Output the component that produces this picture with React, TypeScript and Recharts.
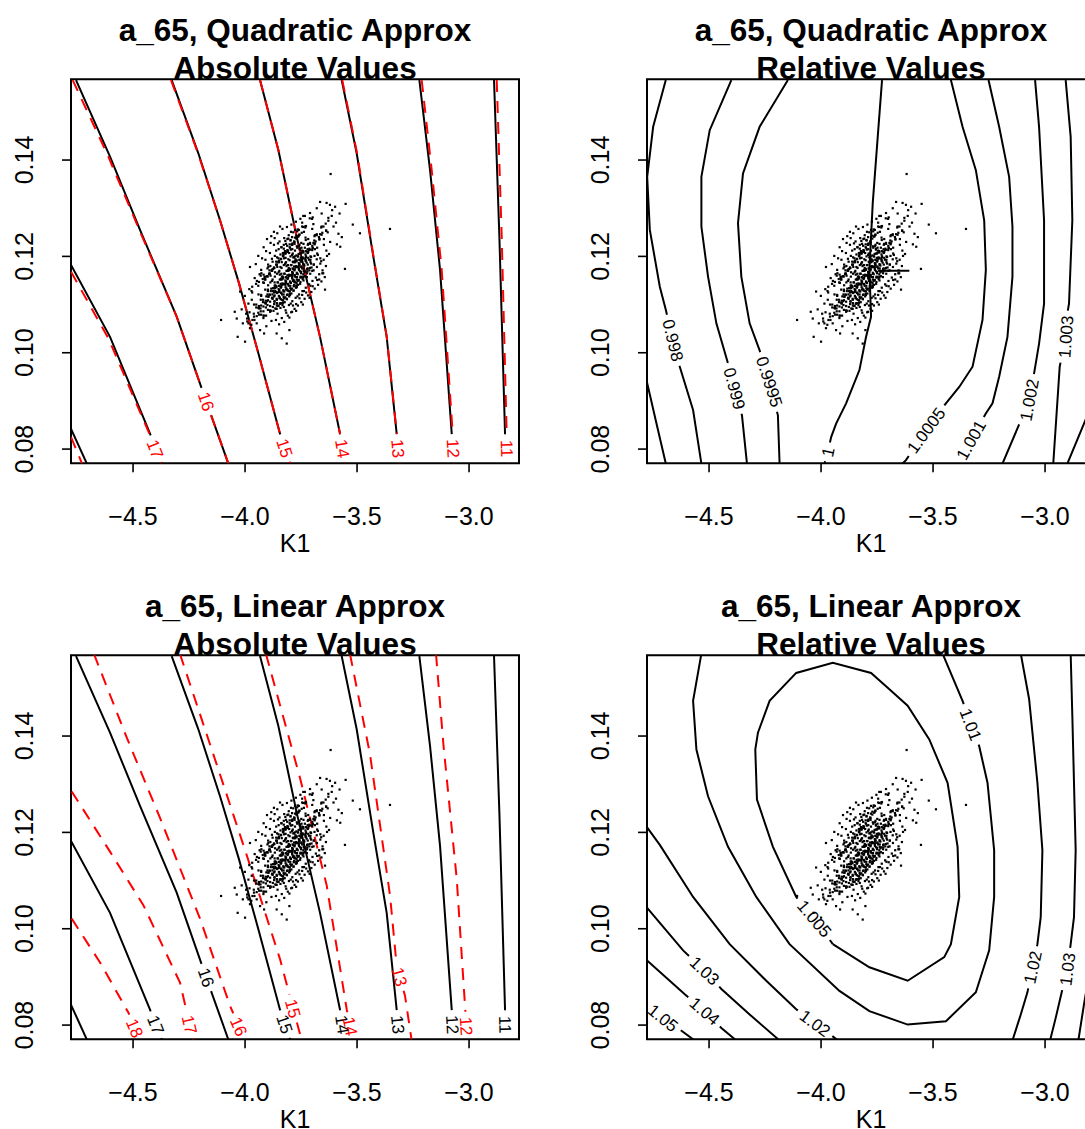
import React from 'react';
import { ComposedChart, Line, Scatter, XAxis, YAxis, ReferenceArea } from 'recharts';

type Pt = [number, number];
type Contour = { level: string; pts: Pt[]; at?: Pt };

const FONT = '"Liberation Sans", Arial, Helvetica, sans-serif';

// ---------- axes ----------
const X_DOMAIN: [number, number] = [-4.777, -2.777];
const Y_DOMAIN: [number, number] = [0.07705, 0.15676];
const X_TICKS = [-4.5, -4.0, -3.5, -3.0];
const Y_TICKS = [0.08, 0.1, 0.12, 0.14];
const X_LABEL = 'K1';

const PANEL_TITLES: [string, string][] = [
  ['a_65, Quadratic Approx', 'Absolute Values'],
  ['a_65, Quadratic Approx', 'Relative Values'],
  ['a_65, Linear Approx', 'Absolute Values'],
  ['a_65, Linear Approx', 'Relative Values'],
];

// ---------- contour lines: true function (black, panels 1 & 3) ----------
const TRUE_ABS: Contour[] = [
  { level: '18', pts: [[-4.7769, 0.0842], [-4.6995, 0.0763]] },
  { level: '17', pts: [[-4.7769, 0.1182], [-4.6028, 0.1033], [-4.4242, 0.0832], [-4.3721, 0.077]], at: [-4.402, 0.08] },
  { level: '16', pts: [[-4.7546, 0.1566], [-4.6028, 0.1407], [-4.4689, 0.1255], [-4.3052, 0.1075], [-4.201, 0.0936], [-4.1489, 0.0867], [-4.0745, 0.077]], at: [-4.1787, 0.0898] },
  { level: '15', pts: [[-4.3275, 0.1566], [-4.2085, 0.1414], [-4.1117, 0.1275], [-4.0269, 0.1144], [-3.9406, 0.0999], [-3.8439, 0.0832], [-3.7993, 0.077]], at: [-3.829, 0.0801] },
  { level: '14', pts: [[-3.9332, 0.1566], [-3.8513, 0.1421], [-3.7695, 0.1241], [-3.6653, 0.1033], [-3.576, 0.0832], [-3.5537, 0.077]], at: [-3.5686, 0.0801] },
  { level: '13', pts: [[-3.5686, 0.1566], [-3.5016, 0.1414], [-3.4272, 0.1199], [-3.3677, 0.1033], [-3.3231, 0.0832], [-3.3112, 0.077]], at: [-3.32, 0.0801] },
  { level: '12', pts: [[-3.2218, 0.1566], [-3.1741, 0.1379], [-3.1295, 0.1172], [-3.0774, 0.0832], [-3.07, 0.077]], at: [-3.0775, 0.0801] },
  { level: '11', pts: [[-2.8885, 0.1566], [-2.8646, 0.1241], [-2.8393, 0.0832], [-2.8364, 0.077]], at: [-2.832, 0.0801] },
];

// ---------- quadratic approximation, absolute (red, panel 1) ----------
const QUAD_ABS: Contour[] = [
  { level: '18', pts: [[-4.7769, 0.0825], [-4.7218, 0.0763]] },
  { level: '17', pts: [[-4.7769, 0.1168], [-4.6102, 0.103], [-4.4272, 0.0832], [-4.3751, 0.077]], at: [-4.402, 0.08] },
  { level: '16', pts: [[-4.7695, 0.1566], [-4.6102, 0.1407], [-4.472, 0.1255], [-4.3052, 0.1075], [-4.201, 0.0936], [-4.1489, 0.0867], [-4.0745, 0.077]], at: [-4.1787, 0.0898] },
  { level: '15', pts: [[-4.3305, 0.1566], [-4.21, 0.1414], [-4.1117, 0.1275], [-4.0269, 0.1144], [-3.9406, 0.0999], [-3.8439, 0.0832], [-3.7993, 0.077]], at: [-3.829, 0.0801] },
  { level: '14', pts: [[-3.9332, 0.1566], [-3.8513, 0.1421], [-3.7695, 0.1241], [-3.6653, 0.1033], [-3.576, 0.0832], [-3.5537, 0.077]], at: [-3.5686, 0.0801] },
  { level: '13', pts: [[-3.566, 0.1566], [-3.5, 0.1414], [-3.4262, 0.1199], [-3.3672, 0.1033], [-3.3226, 0.0832], [-3.3108, 0.077]], at: [-3.32, 0.0801] },
  { level: '12', pts: [[-3.2114, 0.1566], [-3.1667, 0.1379], [-3.1221, 0.1172], [-3.073, 0.0832], [-3.067, 0.077]], at: [-3.0775, 0.0801] },
  { level: '11', pts: [[-2.8765, 0.1566], [-2.8542, 0.1241], [-2.832, 0.0832], [-2.829, 0.077]], at: [-2.832, 0.0801] },
];

// ---------- linear approximation, absolute (red, panel 3) ----------
const LIN_ABS: Contour[] = [
  { level: '18', pts: [[-4.7739, 0.1021], [-4.6474, 0.093], [-4.521, 0.0826], [-4.4689, 0.0768]], at: [-4.4912, 0.0794] },
  { level: '17', pts: [[-4.7739, 0.1285], [-4.6028, 0.116], [-4.454, 0.1049], [-4.2903, 0.0888], [-4.2308, 0.0768]], at: [-4.2457, 0.0801] },
  { level: '16', pts: [[-4.6742, 0.157], [-4.5284, 0.1397], [-4.3796, 0.123], [-4.201, 0.1021], [-4.0671, 0.084], [-4.0, 0.0768]], at: [-4.0224, 0.0798] },
  { level: '15', pts: [[-4.2903, 0.157], [-4.1415, 0.1362], [-3.9927, 0.1153], [-3.8439, 0.0937], [-3.7471, 0.0768]], at: [-3.7962, 0.0833] },
  { level: '14', pts: [[-3.9064, 0.157], [-3.7546, 0.1313], [-3.6355, 0.109], [-3.5462, 0.0833], [-3.5164, 0.0768]], at: [-3.5239, 0.0798] },
  { level: '13', pts: [[-3.5314, 0.157], [-3.4421, 0.1362], [-3.3528, 0.1069], [-3.3231, 0.0923], [-3.2859, 0.0861], [-3.2562, 0.0768]], at: [-3.3201, 0.0899] },
  { level: '12', pts: [[-3.1474, 0.157], [-3.1146, 0.1383], [-3.0551, 0.1104], [-3.018, 0.084], [-3.0076, 0.0768]], at: [-3.0031, 0.0798] },
];

// ---------- quadratic approximation, relative (panel 2) ----------
const QUAD_REL: Contour[] = [
  { level: '0.9975', pts: [[-4.7792, 0.0943], [-4.7347, 0.0853], [-4.6931, 0.077]] },
  { level: '0.998', pts: [[-4.6931, 0.1566], [-4.7495, 0.1469], [-4.7762, 0.1365], [-4.7644, 0.1255], [-4.7198, 0.1137], [-4.6931, 0.1089], [-4.6604, 0.1026], [-4.6307, 0.0971], [-4.5713, 0.0881], [-4.5342, 0.077]], at: [-4.6604, 0.1026] },
  { level: '0.999', pts: [[-4.4005, 0.1566], [-4.497, 0.1462], [-4.5342, 0.1365], [-4.5342, 0.1262], [-4.5045, 0.1158], [-4.4673, 0.1061], [-4.4198, 0.0985], [-4.3856, 0.0926], [-4.353, 0.087], [-4.3307, 0.077]], at: [-4.3856, 0.0926] },
  { level: '0.9995', pts: [[-4.148, 0.1566], [-4.2742, 0.1469], [-4.3485, 0.1372], [-4.3708, 0.1269], [-4.3559, 0.1158], [-4.3188, 0.1061], [-4.2742, 0.1005], [-4.2297, 0.094], [-4.1926, 0.087], [-4.1851, 0.077]], at: [-4.2297, 0.094] },
  { level: '1', pts: [[-3.7277, 0.1566], [-3.747, 0.1448], [-3.7693, 0.131], [-3.7841, 0.1172], [-3.7767, 0.1075], [-3.799, 0.1033], [-3.8287, 0.0964], [-3.8881, 0.0895], [-3.9327, 0.0853], [-3.9549, 0.0825], [-3.9698, 0.0794], [-3.9846, 0.077]], at: [-3.9698, 0.0794] },
  { level: '1', pts: [[-3.745, 0.117], [-3.6059, 0.117]] },
  { level: '1.0005', pts: [[-3.4203, 0.1566], [-3.3683, 0.1469], [-3.3089, 0.1379], [-3.2717, 0.1275], [-3.2643, 0.1172], [-3.2792, 0.1068], [-3.3237, 0.0971], [-3.3831, 0.0929], [-3.4425, 0.0895], [-3.5316, 0.0839], [-3.6208, 0.0777], [-3.6356, 0.077]], at: [-3.5316, 0.0839] },
  { level: '1.001', pts: [[-3.2524, 0.1566], [-3.2049, 0.1469], [-3.1603, 0.1365], [-3.1455, 0.1262], [-3.1455, 0.1158], [-3.1678, 0.1033], [-3.2049, 0.095], [-3.2346, 0.0895], [-3.2643, 0.0874], [-3.3311, 0.0819], [-3.3831, 0.077]], at: [-3.3311, 0.0819] },
  { level: '1.002', pts: [[-3.0445, 0.1566], [-3.0267, 0.1469], [-3.0044, 0.1275], [-3.0044, 0.1102], [-3.0267, 0.1019], [-3.0489, 0.0957], [-3.0712, 0.0902], [-3.1232, 0.0843], [-3.19, 0.077]], at: [-3.0712, 0.0902] },
  { level: '1.003', pts: [[-2.9079, 0.1566], [-2.8856, 0.1448], [-2.8782, 0.1275], [-2.893, 0.1102], [-2.9004, 0.1082], [-2.9079, 0.1033], [-2.9346, 0.0971], [-2.9633, 0.077]], at: [-2.9079, 0.1033] },
  { level: '1.004', pts: [[-2.9004, 0.077], [-2.8262, 0.0853], [-2.7816, 0.0902]] },
];

// ---------- linear approximation, relative (panel 4) ----------
const LIN_REL: Contour[] = [
  { level: '1.005', pts: [[-3.9475, 0.0968], [-3.7841, 0.092], [-3.6133, 0.0892], [-3.45, 0.0941], [-3.4203, 0.0968], [-3.3831, 0.1066], [-3.3905, 0.117], [-3.4351, 0.1303], [-3.5168, 0.1393], [-3.6133, 0.1463], [-3.695, 0.1497], [-3.7767, 0.1531], [-3.9475, 0.1552], [-4.1109, 0.1531], [-4.2297, 0.1473], [-4.2817, 0.1407], [-4.2936, 0.1372], [-4.2861, 0.1268], [-4.2148, 0.117], [-4.1109, 0.1066], [-4.0292, 0.1021], [-3.9475, 0.0968]], at: [-4.0292, 0.1021] },
  { level: '1.01', pts: [[-4.5342, 0.1571], [-4.5713, 0.1473], [-4.5564, 0.1372], [-4.5045, 0.1275], [-4.4153, 0.117], [-4.2891, 0.1066], [-4.1406, 0.0968], [-3.9178, 0.0871], [-3.7841, 0.0829], [-3.6133, 0.0801], [-3.4425, 0.0808], [-3.3089, 0.0868], [-3.2494, 0.0955], [-3.2272, 0.1066], [-3.2272, 0.1163], [-3.2569, 0.1303], [-3.294, 0.1379], [-3.3311, 0.1424], [-3.3683, 0.1473], [-3.4574, 0.1571]], at: [-3.3311, 0.1424] },
  { level: '1.02', pts: [[-4.7792, 0.1212], [-4.7198, 0.1174], [-4.5713, 0.1066], [-4.4079, 0.0968], [-4.2445, 0.0892], [-4.1109, 0.0833], [-4.0262, 0.0804], [-3.9238, 0.0768]], at: [-4.0262, 0.0804] },
  { level: '1.02', pts: [[-3.1084, 0.1571], [-3.0712, 0.1477], [-3.0341, 0.1303], [-3.0118, 0.1163], [-3.0193, 0.1024], [-3.0341, 0.0968], [-3.0564, 0.092], [-3.0787, 0.0868], [-3.1084, 0.0822], [-3.1455, 0.0768]], at: [-3.0564, 0.092] },
  { level: '1.03', pts: [[-4.7792, 0.1045], [-4.6158, 0.0955], [-4.5193, 0.0913], [-4.445, 0.0875], [-4.3188, 0.0822], [-4.1851, 0.0768]], at: [-4.5193, 0.0913] },
  { level: '1.03', pts: [[-2.8856, 0.1571], [-2.8782, 0.1442], [-2.8633, 0.1163], [-2.8708, 0.1024], [-2.8856, 0.0968], [-2.9004, 0.0916], [-2.9257, 0.0868], [-2.9524, 0.0815], [-2.9777, 0.0768]], at: [-2.9004, 0.0916] },
  { level: '1.04', pts: [[-4.7792, 0.0935], [-4.6084, 0.0864], [-4.5193, 0.0829], [-4.445, 0.0794], [-4.3782, 0.0768]], at: [-4.5193, 0.0829] },
  { level: '1.04', pts: [[-2.8514, 0.0768], [-2.8262, 0.0843], [-2.7965, 0.0923]] },
  { level: '1.05', pts: [[-4.7792, 0.0843], [-4.705, 0.0815], [-4.6307, 0.0791], [-4.5639, 0.0768]], at: [-4.705, 0.0815] },
];

// ---------- sampled points (K1, a_65) ----------
const POINTS: Pt[] = [
  [-3.960,.1100],[-3.990,.1065],[-3.938,.1093],[-4.001,.1118],[-3.948,.1076],[-3.978,.1051],
  [-3.950,.1100],[-3.980,.1084],[-3.928,.1118],[-3.991,.1071],[-3.938,.1092],[-3.968,.1137],[-3.915,.1077],
  [-3.940,.1093],[-3.970,.1110],[-3.918,.1077],[-3.981,.1132],[-3.928,.1098],[-3.958,.1068],[-3.905,.1117],
  [-3.930,.1110],[-3.960,.1075],[-3.908,.1103],[-3.971,.1128],[-3.918,.1086],[-3.948,.1061],[-3.895,.1117],[-3.938,.1097],
  [-3.920,.1110],[-3.950,.1094],[-3.898,.1128],[-3.961,.1081],[-3.908,.1102],[-3.938,.1147],[-3.885,.1087],[-3.928,.1120],[-3.967,.1068],
  [-3.910,.1104],[-3.940,.1121],[-3.888,.1088],[-3.951,.1143],[-3.898,.1109],[-3.928,.1079],[-3.875,.1128],[-3.918,.1096],[-3.957,.1155],[-3.870,.1101],
  [-3.900,.1121],[-3.930,.1086],[-3.878,.1114],[-3.941,.1139],[-3.888,.1097],[-3.918,.1072],[-3.865,.1128],[-3.908,.1108],[-3.947,.1149],[-3.860,.1091],[-3.883,.1133],
  [-3.890,.1121],[-3.920,.1105],[-3.868,.1139],[-3.931,.1092],[-3.878,.1113],[-3.908,.1158],[-3.855,.1098],[-3.898,.1131],[-3.937,.1079],[-3.850,.1126],[-3.873,.1087],[-3.916,.1145],
  [-3.880,.1114],[-3.910,.1131],[-3.858,.1098],[-3.921,.1153],[-3.868,.1119],[-3.898,.1089],[-3.845,.1138],[-3.888,.1106],[-3.927,.1165],[-3.840,.1111],[-3.863,.1126],[-3.906,.1077],
  [-3.870,.1134],[-3.900,.1099],[-3.848,.1127],[-3.911,.1152],[-3.858,.1110],[-3.888,.1085],[-3.835,.1141],[-3.878,.1121],[-3.917,.1162],[-3.830,.1104],[-3.853,.1146],[-3.896,.1116],[-3.865,.1092],
  [-3.860,.1136],[-3.890,.1120],[-3.838,.1154],[-3.901,.1107],[-3.848,.1128],[-3.878,.1173],[-3.825,.1113],[-3.868,.1146],[-3.907,.1094],[-3.820,.1141],[-3.843,.1102],[-3.886,.1160],[-3.855,.1125],
  [-3.850,.1132],[-3.880,.1149],[-3.828,.1116],[-3.891,.1171],[-3.838,.1137],[-3.868,.1107],[-3.815,.1156],[-3.858,.1124],[-3.897,.1183],[-3.810,.1129],[-3.833,.1144],[-3.876,.1095],[-3.845,.1162],[-3.800,.1120],
  [-3.840,.1152],[-3.870,.1117],[-3.818,.1145],[-3.881,.1170],[-3.828,.1128],[-3.858,.1103],[-3.805,.1159],[-3.848,.1139],[-3.887,.1180],[-3.800,.1122],[-3.823,.1164],[-3.866,.1134],[-3.835,.1110],[-3.790,.1156],
  [-3.830,.1154],[-3.860,.1138],[-3.808,.1172],[-3.871,.1125],[-3.818,.1146],[-3.848,.1191],[-3.795,.1131],[-3.838,.1164],[-3.877,.1112],[-3.790,.1159],[-3.813,.1120],[-3.856,.1178],[-3.825,.1143],[-3.780,.1150],[-3.842,.1204],
  [-3.820,.1150],[-3.850,.1167],[-3.798,.1134],[-3.861,.1189],[-3.808,.1155],[-3.838,.1125],[-3.785,.1174],[-3.828,.1142],[-3.867,.1201],[-3.780,.1147],[-3.803,.1162],[-3.846,.1113],[-3.815,.1180],[-3.770,.1138],[-3.832,.1158],
  [-3.810,.1170],[-3.840,.1135],[-3.788,.1163],[-3.851,.1188],[-3.798,.1146],[-3.828,.1121],[-3.775,.1177],[-3.818,.1157],[-3.857,.1198],[-3.770,.1140],[-3.793,.1182],[-3.836,.1152],[-3.805,.1128],[-3.760,.1174],[-3.822,.1211],
  [-3.800,.1172],[-3.830,.1156],[-3.778,.1190],[-3.841,.1143],[-3.788,.1164],[-3.818,.1209],[-3.765,.1149],[-3.808,.1182],[-3.847,.1130],[-3.760,.1177],[-3.783,.1138],[-3.826,.1196],[-3.795,.1161],[-3.750,.1168],[-3.812,.1222],
  [-3.790,.1168],[-3.820,.1185],[-3.768,.1152],[-3.831,.1207],[-3.778,.1173],[-3.808,.1143],[-3.755,.1192],[-3.798,.1160],[-3.837,.1219],[-3.750,.1165],[-3.773,.1180],[-3.816,.1131],[-3.785,.1198],[-3.740,.1156],
  [-3.780,.1188],[-3.810,.1153],[-3.758,.1181],[-3.821,.1206],[-3.768,.1164],[-3.798,.1139],[-3.745,.1195],[-3.788,.1175],[-3.827,.1216],[-3.740,.1158],[-3.763,.1200],[-3.806,.1170],[-3.775,.1146],[-3.730,.1192],
  [-3.770,.1190],[-3.800,.1174],[-3.748,.1208],[-3.811,.1161],[-3.758,.1182],[-3.788,.1227],[-3.735,.1167],[-3.778,.1200],[-3.817,.1148],[-3.730,.1195],[-3.753,.1156],[-3.796,.1214],[-3.765,.1179],
  [-3.760,.1186],[-3.790,.1203],[-3.738,.1170],[-3.801,.1225],[-3.748,.1191],[-3.778,.1161],[-3.725,.1210],[-3.768,.1178],[-3.807,.1237],[-3.720,.1183],[-3.743,.1198],[-3.786,.1149],[-3.755,.1216],
  [-3.750,.1206],[-3.780,.1171],[-3.728,.1199],[-3.791,.1224],[-3.738,.1182],[-3.768,.1157],[-3.715,.1213],[-3.758,.1193],[-3.797,.1234],[-3.710,.1176],[-3.733,.1218],[-3.776,.1188],
  [-3.740,.1208],[-3.770,.1192],[-3.718,.1226],[-3.781,.1179],[-3.728,.1200],[-3.758,.1245],[-3.705,.1185],[-3.748,.1218],[-3.787,.1166],[-3.700,.1213],[-3.723,.1174],
  [-3.730,.1204],[-3.760,.1221],[-3.708,.1188],[-3.771,.1243],[-3.718,.1209],[-3.748,.1179],[-3.695,.1228],[-3.738,.1196],[-3.777,.1255],[-3.690,.1201],[-3.713,.1216],
  [-3.720,.1224],[-3.750,.1189],[-3.698,.1217],[-3.761,.1242],[-3.708,.1200],[-3.738,.1175],[-3.685,.1231],[-3.728,.1211],[-3.767,.1252],[-3.680,.1194],
  [-3.710,.1226],[-3.740,.1210],[-3.688,.1244],[-3.751,.1197],[-3.698,.1218],[-3.728,.1263],[-3.675,.1203],[-3.718,.1236],[-3.757,.1184],
  [-3.700,.1222],[-3.730,.1239],[-3.678,.1206],[-3.741,.1261],[-3.688,.1227],[-3.718,.1197],[-3.665,.1246],[-3.708,.1214],
  [-3.690,.1242],[-3.720,.1207],[-3.668,.1235],[-3.731,.1260],[-3.678,.1218],[-3.708,.1193],[-3.655,.1249],
  [-3.680,.1244],[-3.710,.1228],[-3.658,.1262],[-3.721,.1215],[-3.668,.1236],[-3.698,.1281],
  [-3.670,.1240],[-3.700,.1257],[-3.648,.1224],[-3.711,.1279],[-3.658,.1245],[-3.688,.1215],
  [-3.660,.1260],[-3.690,.1225],[-3.638,.1253],[-3.701,.1278],[-3.648,.1236],
  [-3.650,.1262],[-3.680,.1246],[-3.628,.1280],[-3.691,.1233],[-3.638,.1254],
  [-3.869,.1106],[-3.897,.1140],[-3.845,.1115],[-3.911,.1153],[-3.860,.1091],[-3.885,.1128],[-3.833,.1099],[-3.919,.1146],
  [-3.859,.1112],[-3.887,.1146],[-3.835,.1121],[-3.901,.1159],[-3.850,.1097],[-3.875,.1134],[-3.823,.1105],[-3.909,.1152],
  [-3.849,.1118],[-3.877,.1152],[-3.825,.1127],[-3.891,.1165],[-3.840,.1103],[-3.865,.1140],[-3.813,.1111],[-3.899,.1158],
  [-3.839,.1124],[-3.867,.1158],[-3.815,.1133],[-3.881,.1171],[-3.830,.1109],[-3.855,.1146],[-3.803,.1117],[-3.889,.1164],
  [-3.829,.1130],[-3.857,.1164],[-3.805,.1139],[-3.871,.1177],[-3.820,.1115],[-3.845,.1152],[-3.793,.1123],[-3.879,.1170],
  [-3.819,.1136],[-3.847,.1170],[-3.795,.1145],[-3.861,.1183],[-3.810,.1121],[-3.835,.1158],[-3.783,.1129],[-3.869,.1176],
  [-3.809,.1142],[-3.837,.1176],[-3.785,.1151],[-3.851,.1189],[-3.800,.1127],[-3.825,.1164],[-3.773,.1135],[-3.859,.1182],
  [-3.799,.1148],[-3.827,.1182],[-3.775,.1157],[-3.841,.1195],[-3.790,.1133],[-3.815,.1170],[-3.763,.1141],[-3.849,.1188],
  [-3.789,.1154],[-3.817,.1188],[-3.765,.1163],[-3.831,.1201],[-3.780,.1139],[-3.805,.1176],[-3.753,.1147],[-3.839,.1194],
  [-3.779,.1160],[-3.807,.1194],[-3.755,.1169],[-3.821,.1207],[-3.770,.1145],[-3.795,.1182],[-3.743,.1153],[-3.829,.1200],
  [-3.769,.1166],[-3.797,.1200],[-3.745,.1175],[-3.811,.1213],[-3.760,.1151],[-3.785,.1188],[-3.733,.1159],[-3.819,.1206],
  [-3.759,.1172],[-3.787,.1206],[-3.735,.1181],[-3.801,.1219],[-3.750,.1157],[-3.775,.1194],[-3.723,.1165],[-3.809,.1212],
  [-3.749,.1178],[-3.777,.1212],[-3.725,.1187],[-3.791,.1225],[-3.740,.1163],[-3.765,.1200],[-3.713,.1171],[-3.799,.1218],
  [-3.739,.1184],[-3.767,.1218],[-3.715,.1193],[-3.781,.1231],[-3.730,.1169],[-3.755,.1206],[-3.703,.1177],[-3.789,.1224],
  [-3.729,.1190],[-3.757,.1224],[-3.705,.1199],[-3.771,.1237],[-3.720,.1175],[-3.745,.1212],[-3.693,.1183],[-3.779,.1230],
  [-3.952,.1184],[-3.941,.1201],[-3.928,.1172],[-3.917,.1219],[-3.909,.1193],[-3.902,.1236],[-3.896,.1178],[-3.889,.1207],[-3.883,.1242],[-3.877,.1189],
  [-3.871,.1224],[-3.866,.1167],[-3.861,.1212],[-3.856,.1248],[-3.851,.1196],[-3.846,.1231],[-3.842,.1178],[-3.838,.1219],[-3.833,.1257],[-3.829,.1203],
  [-3.825,.1238],[-3.821,.1185],[-3.817,.1226],[-3.813,.1261],[-3.809,.1209],[-3.805,.1244],[-3.801,.1192],[-3.797,.1233],[-3.793,.1266],[-3.789,.1215],
  [-3.785,.1250],[-3.781,.1198],[-3.777,.1239],[-3.773,.1272],[-3.769,.1221],[-3.765,.1256],[-3.761,.1205],[-3.757,.1245],[-3.753,.1278],[-3.749,.1228],
  [-3.745,.1262],[-3.741,.1211],[-3.737,.1251],[-3.733,.1284],[-3.729,.1234],
  [-3.935,.1163],[-3.924,.1196],[-3.913,.1157],[-3.906,.1211],[-3.893,.1163],[-3.886,.1228],[-3.874,.1174],[-3.868,.1238],[-3.858,.1183],[-3.853,.1227],
  [-3.844,.1262],[-3.836,.1188],[-3.827,.1224],[-3.819,.1197],[-3.811,.1236],[-3.803,.1207],[-3.795,.1251],[-3.787,.1189],[-3.779,.1226],[-3.771,.1202],
  [-3.763,.1241],[-3.755,.1214],[-3.747,.1249],[-3.739,.1226],[-3.731,.1262],
  [-3.862,.1068],[-3.855,.1081],[-3.848,.1059],[-3.842,.1093],[-3.836,.1072],[-3.831,.1104],[-3.825,.1064],[-3.819,.1088],[-3.814,.1112],[-3.809,.1077],
  [-3.804,.1099],[-3.799,.1121],[-3.794,.1084],[-3.789,.1107],[-3.784,.1129],[-3.779,.1091],[-3.774,.1114],[-3.769,.1136],[-3.764,.1098],[-3.759,.1121],
  [-3.754,.1143],[-3.749,.1105],[-3.744,.1128],[-3.739,.1150],[-3.734,.1112],[-3.729,.1135],[-3.724,.1157],[-3.719,.1119],[-3.714,.1142],[-3.709,.1164],
  [-3.704,.1126],[-3.699,.1149],[-3.694,.1171],[-3.689,.1133],[-3.684,.1156],[-3.679,.1178],[-3.674,.1141],[-3.669,.1163],[-3.664,.1185],[-3.659,.1148],
  [-3.654,.1171],[-3.649,.1193],[-3.644,.1157],[-3.639,.1180],[-3.634,.1201],
  [-3.845,.1102],[-3.827,.1095],[-3.811,.1131],[-3.796,.1102],[-3.781,.1141],[-3.766,.1117],[-3.752,.1158],[-3.737,.1128],[-3.722,.1169],[-3.708,.1139],
  [-3.693,.1183],[-3.678,.1151],[-3.664,.1196],[-3.651,.1165],[-3.637,.1212],[-3.816,.1083],[-3.786,.1098],[-3.757,.1113],[-3.727,.1125],[-3.698,.1138],
  [-3.669,.1152],[-3.802,.1073],[-3.772,.1087],[-3.742,.1100],[-3.712,.1114],
  [-4.107,.1068],[-4.037,.1071],[-4.033,.1033],[-4.000,.1023],[-4.010,.1061],[-3.933,.1047],[-3.859,.1040],[-3.814,.1019],[-3.836,.1030],[-3.802,.1047],
  [-4.022,.1127],[-3.985,.1102],[-3.941,.1083],[-3.978,.1178],[-4.015,.1090],[-3.995,.1081],[-3.972,.1058],[-4.046,.1085],[-3.968,.1125],[-3.985,.1061],
  [-3.905,.1055],[-3.882,.1066],[-3.915,.1040],[-3.790,.1085],[-3.772,.1101],[-3.745,.1120],
  [-3.618,.1371],[-3.665,.1313],[-3.636,.1311],[-3.621,.1307],[-3.598,.1303],[-3.658,.1289],[-3.613,.1284],[-3.551,.1309],[-3.519,.1266],[-3.487,.1248],
  [-3.353,.1257],[-3.554,.1174],[-3.643,.1131],[-3.740,.1284],[-3.695,.1267],[-3.594,.1270],[-3.871,.1251],[-3.640,.1268],[-3.628,.1274],[-3.631,.1250],
  [-3.611,.1296],[-3.605,.1262],[-3.583,.1247],[-3.578,.1289],[-3.568,.1240],[-3.575,.1220],[-3.590,.1225],[-3.620,.1230],[-3.625,.1205],[-3.660,.1190],
  [-3.655,.1165],[-3.700,.1170],[-3.760,.1255],[-3.790,.1240],[-3.850,.1215],[-3.820,.1232],[-3.880,.1195],[-3.900,.1175],[-3.930,.1160],[-3.710,.1290],
  [-3.745,.1270],[-3.680,.1300],
];

// ---------- layout ----------
const CHART_W = 576;
const CHART_H = 576;
const Y_AXIS_W = 60;
const X_AXIS_H = 60;
const MARGIN = { top: 79.3, right: 57, bottom: 52.7, left: 11 };
const PLOT_W = CHART_W - MARGIN.left - Y_AXIS_W - MARGIN.right;
const PLOT_H = CHART_H - MARGIN.top - MARGIN.bottom - X_AXIS_H;
const PANEL_POS: [number, number][] = [[0, 0], [576.3, 0], [0, 576], [576.3, 576]];
const LABEL_FS = 17;
const LABEL_PAD = 5;
const AXIS_FS = 25;
const TITLE_FS = 31.5;
const RED = '#ff0000';
const LINE_W = 2;

const XR = X_DOMAIN[1] - X_DOMAIN[0];
const YR = Y_DOMAIN[1] - Y_DOMAIN[0];
const toPx = (p: Pt): Pt => [((p[0] - X_DOMAIN[0]) / XR) * PLOT_W, ((Y_DOMAIN[1] - p[1]) / YR) * PLOT_H];
const fromPx = (p: Pt): Pt => [X_DOMAIN[0] + (p[0] / PLOT_W) * XR, Y_DOMAIN[1] - (p[1] / PLOT_H) * YR];

const labelWidth = (s: string) => {
  let w = 0;
  for (const ch of s) w += ch === '.' ? 0.278 : 0.556;
  return w * LABEL_FS;
};

function splitContour(c: Contour) {
  if (!c.at) return { segs: [c.pts], label: null as any };
  const P = c.pts.map(toPx);
  const L = toPx(c.at);
  const cum = [0];
  for (let i = 1; i < P.length; i++) cum.push(cum[i - 1] + Math.hypot(P[i][0] - P[i - 1][0], P[i][1] - P[i - 1][1]));
  const total = cum[cum.length - 1];
  let best = { d: Infinity, s: 0, q: P[0] as Pt, dx: 1, dy: 0 };
  for (let i = 0; i < P.length - 1; i++) {
    const a = P[i];
    const b = P[i + 1];
    const dx = b[0] - a[0];
    const dy = b[1] - a[1];
    const len = Math.hypot(dx, dy);
    if (len === 0) continue;
    let t = ((L[0] - a[0]) * dx + (L[1] - a[1]) * dy) / (len * len);
    t = Math.max(0, Math.min(1, t));
    const q: Pt = [a[0] + t * dx, a[1] + t * dy];
    const d = Math.hypot(q[0] - L[0], q[1] - L[1]);
    if (d < best.d) best = { d, s: cum[i] + t * len, q, dx, dy };
  }
  const half = labelWidth(c.level) / 2 + LABEL_PAD;
  const s0 = best.s - half;
  const s1 = best.s + half;
  const pointAt = (s: number): Pt => {
    for (let i = 0; i < P.length - 1; i++) {
      if (s <= cum[i + 1] || i === P.length - 2) {
        const seg = cum[i + 1] - cum[i];
        const t = seg ? (s - cum[i]) / seg : 0;
        return [P[i][0] + t * (P[i + 1][0] - P[i][0]), P[i][1] + t * (P[i + 1][1] - P[i][1])];
      }
    }
    return P[P.length - 1];
  };
  const segs: Pt[][] = [];
  if (s0 > 0) {
    const s = P.filter((_, i) => cum[i] < s0);
    s.push(pointAt(s0));
    segs.push(s);
  }
  if (s1 < total) {
    segs.push([pointAt(s1), ...P.filter((_, i) => cum[i] > s1)]);
  }
  let ang = (Math.atan2(best.dy, best.dx) * 180) / Math.PI;
  if (ang > 90) ang -= 180;
  if (ang <= -90) ang += 180;
  const lp = fromPx(best.q);
  return {
    segs: segs.map((s) => s.map(fromPx)),
    label: { x: lp[0], y: lp[1], text: c.level, angle: ang },
  };
}

function build(set: Contour[]) {
  const segs: Pt[][] = [];
  const labels: any[] = [];
  set.forEach((c) => {
    const r = splitContour(c);
    r.segs.forEach((s) => segs.push(s));
    if (r.label) labels.push(r.label);
  });
  return { segs, labels };
}

const POINT_DATA = POINTS.map(([x, y]) => ({ x, y }));

const fmtX = (v: number) => (v < 0 ? '\u2212' : '') + Math.abs(v).toFixed(1);

const XTick = (p: any) => (
  <text x={p.x} y={p.y + 52.5} textAnchor="middle" fontSize={AXIS_FS} fontFamily={FONT} fill="#000">
    {fmtX(p.payload.value)}
  </text>
);

const YTick = (p: any) => (
  <text
    transform={`translate(${p.x - 28.7},${p.y}) rotate(-90)`}
    textAnchor="middle"
    fontSize={AXIS_FS}
    fontFamily={FONT}
    fill="#000"
  >
    {Number(p.payload.value).toFixed(2)}
  </text>
);

const K1Label = (p: any) => {
  const vb = p.viewBox || {};
  return (
    <text x={vb.x + vb.width / 2} y={vb.y + 88.5} textAnchor="middle" fontSize={AXIS_FS} fontFamily={FONT} fill="#000">
      {X_LABEL}
    </text>
  );
};

const PointMark = (p: any) => {
  if (p.cx == null || p.cy == null) return <g />;
  return <rect x={p.cx - 1.1} y={p.cy - 1.1} width={2.2} height={2.2} fill="#000" />;
};

const makeLabelShape = (color: string) => (p: any) => {
  const d = p.payload || p;
  if (p.cx == null || p.cy == null) return <g />;
  return (
    <text
      transform={`translate(${p.cx},${p.cy}) rotate(${d.angle})`}
      textAnchor="middle"
      dy="0.36em"
      fontSize={LABEL_FS}
      fontFamily={FONT}
      fill={color}
    >
      {d.text}
    </text>
  );
};

const BlackLabel = makeLabelShape('#000');
const RedLabel = makeLabelShape(RED);
const TICK_LINE = { stroke: '#000', strokeWidth: 1.6 };

function Panel(props: { idx: number; black: Contour[]; blackText: boolean; red: Contour[] | null }) {
  const { idx, black, blackText, red } = props;
  const b = build(black);
  const r = red ? build(red) : null;
  const [left, top] = PANEL_POS[idx];
  const [t1, t2] = PANEL_TITLES[idx];
  const cx = MARGIN.left + Y_AXIS_W + PLOT_W / 2;
  return (
    <div style={{ position: 'absolute', left, top, width: CHART_W, height: CHART_H }}>
      <ComposedChart width={CHART_W} height={CHART_H} margin={MARGIN}>
        <XAxis
          type="number"
          dataKey="x"
          domain={X_DOMAIN}
          allowDataOverflow
          ticks={X_TICKS}
          interval={0}
          tick={XTick}
          tickLine={TICK_LINE}
          axisLine={false}
          tickSize={9}
          tickMargin={0}
          height={X_AXIS_H}
          label={{ content: K1Label }}
        />
        <YAxis
          type="number"
          dataKey="y"
          domain={Y_DOMAIN}
          allowDataOverflow
          ticks={Y_TICKS}
          interval={0}
          tick={YTick}
          tickLine={TICK_LINE}
          axisLine={false}
          tickSize={9}
          tickMargin={0}
          width={Y_AXIS_W}
        />
        <Scatter data={POINT_DATA} dataKey="y" shape={PointMark} isAnimationActive={false} />
        {b.segs.map((s, i) => (
          <Line
            key={`b${i}`}
            data={s.map(([x, y]) => ({ x, y }))}
            dataKey="y"
            type="linear"
            stroke="#000"
            strokeWidth={LINE_W}
            dot={false}
            activeDot={false}
            isAnimationActive={false}
          />
        ))}
        {r &&
          r.segs.map((s, i) => (
            <Line
              key={`r${i}`}
              data={s.map(([x, y]) => ({ x, y }))}
              dataKey="y"
              type="linear"
              stroke={RED}
              strokeWidth={LINE_W}
              strokeDasharray="12 9"
              dot={false}
              activeDot={false}
              isAnimationActive={false}
            />
          ))}
        {blackText && <Scatter data={b.labels} dataKey="y" shape={BlackLabel} isAnimationActive={false} />}
        {r && <Scatter data={r.labels} dataKey="y" shape={RedLabel} isAnimationActive={false} />}
        <ReferenceArea
          x1={X_DOMAIN[0]}
          x2={X_DOMAIN[1]}
          y1={Y_DOMAIN[0]}
          y2={Y_DOMAIN[1]}
          fill="none"
          fillOpacity={0}
          stroke="#000"
          strokeWidth={2}
          ifOverflow="visible"
        />
      </ComposedChart>
      <svg
        width={CHART_W}
        height={100}
        style={{ position: 'absolute', left: 0, top: 0, pointerEvents: 'none', overflow: 'visible' }}
      >
        <text x={cx} y={40.5} textAnchor="middle" fontWeight="bold" fontSize={TITLE_FS} fontFamily={FONT} fill="#000">
          {t1}
        </text>
        <text x={cx} y={78.5} textAnchor="middle" fontWeight="bold" fontSize={TITLE_FS} fontFamily={FONT} fill="#000">
          {t2}
        </text>
      </svg>
    </div>
  );
}

export default function App() {
  return (
    <div
      style={{
        position: 'absolute',
        left: 0,
        top: 0,
        width: 1085,
        height: 1129,
        overflow: 'hidden',
        background: '#fff',
      }}
    >
      <Panel idx={0} black={TRUE_ABS} blackText={false} red={QUAD_ABS} />
      <Panel idx={1} black={QUAD_REL} blackText={true} red={null} />
      <Panel idx={2} black={TRUE_ABS} blackText={true} red={LIN_ABS} />
      <Panel idx={3} black={LIN_REL} blackText={true} red={null} />
    </div>
  );
}
